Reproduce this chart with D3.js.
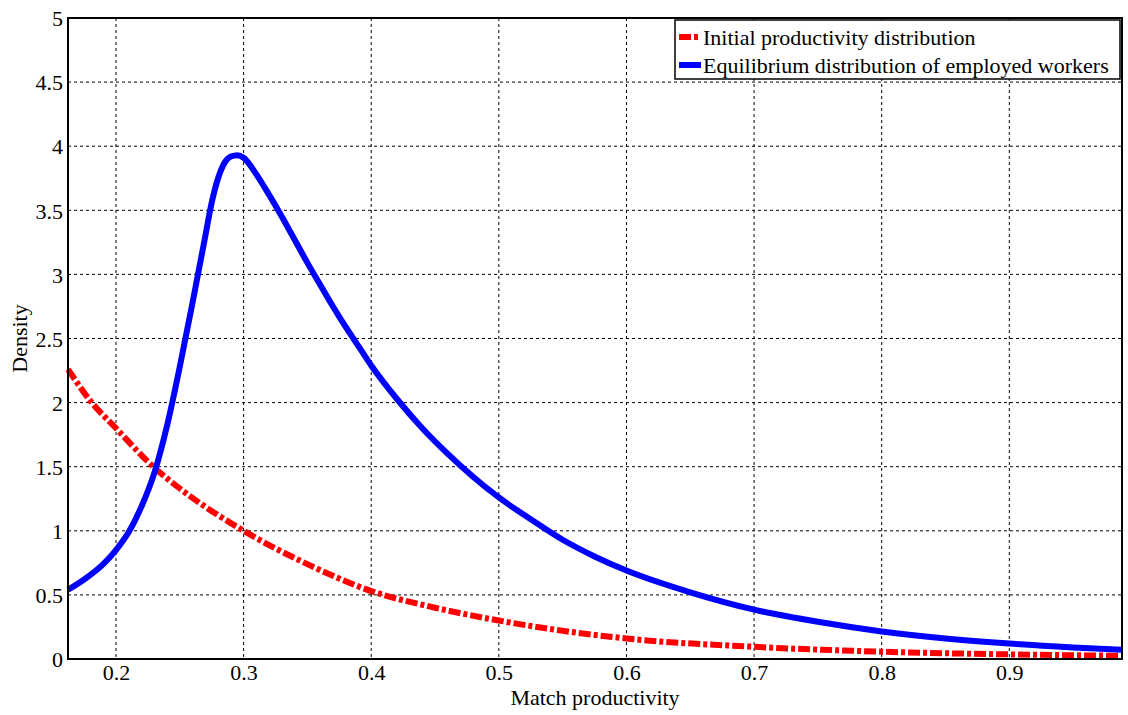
<!DOCTYPE html>
<meta charset="utf-8">
<style>
body {
    margin: 0;
    background: #fff;
}
svg {
    display: block;
}
svg text {
  font-family: "Liberation Serif", "Times New Roman", serif;
  fill: #000;
}
.grid line {
  stroke: #000;
  stroke-width: 1px;
  stroke-dasharray: 3,3;
}
.tick text {
  font-size: 22px;
}
</style>
<svg width="1128" height="715"></svg>
<script src="https://d3js.org/d3.v7.min.js"></script>
<script>
// equilibrium distribution of employed workers (blue)
var eqX = [0.1624, 0.175, 0.19, 0.2, 0.21, 0.22, 0.23, 0.24, 0.25, 0.26, 0.27, 0.275, 0.28, 0.285, 0.29, 0.295, 0.30, 0.31, 0.32, 0.33, 0.34, 0.35, 0.36, 0.37, 0.38, 0.39, 0.40, 0.42, 0.44, 0.46, 0.48, 0.50, 0.525, 0.55, 0.575, 0.60, 0.65, 0.70, 0.75, 0.80, 0.85, 0.90, 0.95, 0.988];
var eqY = [0.54, 0.62, 0.74, 0.85, 0.99, 1.19, 1.45, 1.82, 2.28, 2.78, 3.30, 3.56, 3.75, 3.87, 3.92, 3.93, 3.91, 3.78, 3.62, 3.45, 3.27, 3.09, 2.92, 2.75, 2.59, 2.44, 2.29, 2.03, 1.80, 1.60, 1.42, 1.26, 1.09, 0.93, 0.80, 0.69, 0.52, 0.385, 0.29, 0.215, 0.16, 0.12, 0.09, 0.072];
// initial productivity distribution (red)
var initX = [0.1624, 0.181, 0.2, 0.2292, 0.25, 0.3, 0.35, 0.4, 0.45, 0.5, 0.55, 0.6, 0.7, 0.8, 0.9, 0.988];
var initY = [2.26, 2.0, 1.80, 1.5, 1.33, 1.0, 0.74, 0.53, 0.40, 0.30, 0.22, 0.16, 0.095, 0.057, 0.036, 0.025];

var xTicks = [0.2, 0.3, 0.4, 0.5, 0.6, 0.7, 0.8, 0.9];
var yTicks = [0, 0.5, 1, 1.5, 2, 2.5, 3, 3.5, 4, 4.5, 5];
var legendLabels = ["Initial productivity distribution", "Equilibrium distribution of employed workers"];

var margin = {top: 18, right: 6, bottom: 56, left: 68};
var svg = d3.select("svg");
var width = +svg.attr("width") - margin.left - margin.right,
    height = +svg.attr("height") - margin.top - margin.bottom;

var g = svg.append("g").attr("transform", "translate(" + margin.left + "," + margin.top + ")");

var x = d3.scaleLinear().domain([0.1624, 0.9883]).range([0, width]);
var y = d3.scaleLinear().domain([0, 5]).range([height, 0]);

// grid
g.append("g").attr("class", "grid")
  .selectAll("line").data(xTicks).enter().append("line")
    .attr("x1", function(d) { return x(d); })
    .attr("x2", function(d) { return x(d); })
    .attr("y1", 0).attr("y2", height);
g.append("g").attr("class", "grid")
  .selectAll("line").data(yTicks.slice(1, -1)).enter().append("line")
    .attr("x1", 0).attr("x2", width)
    .attr("y1", function(d) { return y(d); })
    .attr("y2", function(d) { return y(d); });

// axes
var xAxis = g.append("g")
    .attr("transform", "translate(0," + height + ")")
    .call(d3.axisBottom(x).tickValues(xTicks).tickSize(0).tickPadding(5).tickFormat(d3.format("")));
var yAxis = g.append("g")
    .call(d3.axisLeft(y).tickValues(yTicks).tickSize(0).tickPadding(5).tickFormat(d3.format("")));
xAxis.select(".domain").remove();
yAxis.select(".domain").remove();
yAxis.selectAll("text").attr("dy", "0.35em");

var line = d3.line()
    .x(function(d) { return x(d[0]); })
    .y(function(d) { return y(d[1]); })
    .curve(d3.curveMonotoneX);

g.append("path")
    .datum(initX.map(function(v, i) { return [v, initY[i]]; }))
    .attr("fill", "none")
    .attr("stroke", "#ff0000")
    .attr("stroke-width", 6)
    .attr("stroke-dasharray", "12,3,4,3")
    .attr("d", line);

g.append("path")
    .datum(eqX.map(function(v, i) { return [v, eqY[i]]; }))
    .attr("fill", "none")
    .attr("stroke", "#0000ff")
    .attr("stroke-width", 6)
    .attr("stroke-linejoin", "round")
    .attr("d", line);

// box
g.append("rect")
    .attr("width", width).attr("height", height)
    .attr("fill", "none").attr("stroke", "#000").attr("stroke-width", 2);

// legend
var lg = svg.append("g").attr("transform", "translate(675,20)");
lg.append("rect")
    .attr("width", 445).attr("height", 59)
    .attr("fill", "#fff").attr("stroke", "#000").attr("stroke-width", 1.5);
var items = lg.selectAll("g.item").data(legendLabels).enter().append("g")
    .attr("class", "item")
    .attr("transform", function(d, i) { return "translate(0," + (17 + i * 28) + ")"; });
items.append("line")
    .attr("x1", 4).attr("x2", 26)
    .attr("stroke", function(d, i) { return i == 0 ? "#ff0000" : "#0000ff"; })
    .attr("stroke-width", 6)
    .attr("stroke-dasharray", function(d, i) { return i == 0 ? "12,3,4,3" : null; });
items.append("text")
    .attr("x", 28).attr("dy", "0.35em")
    .attr("font-size", 22)
    .text(function(d) { return d; });

// axis labels
svg.append("text")
    .attr("x", 595).attr("y", 705)
    .attr("text-anchor", "middle").attr("font-size", 22)
    .text("Match productivity");
svg.append("text")
    .attr("transform", "translate(27," + (margin.top + height / 2) + ") rotate(-90)")
    .attr("text-anchor", "middle").attr("font-size", 22)
    .text("Density");
</script>
